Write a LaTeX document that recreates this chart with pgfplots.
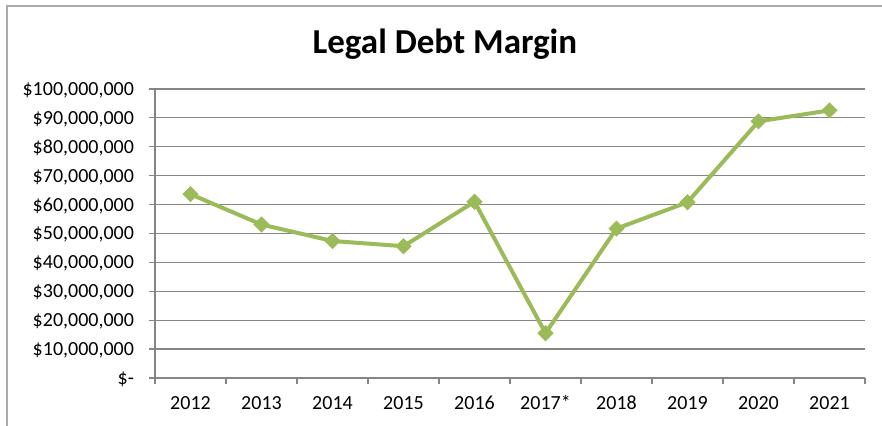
\documentclass[border=0pt]{standalone}
\usepackage{fontspec}
\setmainfont{Carlito}
\usepackage{pgfplots}
\pgfplotsset{compat=1.18}
\definecolor{linegreen}{RGB}{155,187,89}
\definecolor{gridgray}{RGB}{134,134,134}
\definecolor{framegray}{RGB}{170,170,170}

\begin{document}
\begin{tikzpicture}[x=1pt,y=1pt]
\path[use as bounding box] (0,0) rectangle (441,213);
\draw[framegray, line width=0.6pt] (3.5,0) -- (3.5,210) -- (441,210);
\node[anchor=base, font=\fontsize{17.5}{21}\selectfont\bfseries] at (222.4,186) {Legal Debt Margin};
\begin{axis}[
    at={(77.5pt,24pt)}, anchor=south west,
    scale only axis,
    width=355pt, height=144.5pt,
    xmin=-0.5, xmax=9.5,
    ymin=0, ymax=100000000,
    scaled ticks=false,
    xtick={0,...,9},
    xticklabels={2012,2013,2014,2015,2016,2017*,2018,2019,2020,2021},
    minor xtick={-0.5,0.5,...,9.5},
    ytick={0,10000000,20000000,30000000,40000000,50000000,60000000,70000000,80000000,90000000,100000000},
    yticklabels={{\$-\hspace{4pt}},{\$10,000,000},{\$20,000,000},{\$30,000,000},{\$40,000,000},{\$50,000,000},{\$60,000,000},{\$70,000,000},{\$80,000,000},{\$90,000,000},{\$100,000,000}},
    ymajorgrids,
    major grid style={gridgray, line width=0.6pt},
    axis lines*=left,
    axis line style={gridgray, line width=0.6pt, -},
    tick align=outside,
    major x tick style={draw=none},
    minor x tick style={gridgray, line width=0.6pt},
    minor tick length=3pt,
    major tick length=3pt,
    ytick style={gridgray, line width=0.6pt},
    ticklabel style={font=\fontsize{10}{12}\selectfont, text height=6.5pt, text depth=0pt},
    xticklabel style={yshift=-2.5pt},
    yticklabel style={xshift=-4pt},
    clip=false,
]
\addplot[linegreen, line width=2pt, mark=square*, mark size=2.6pt,
         mark options={rotate=45, fill=linegreen, draw=linegreen, line width=0.5pt}]
coordinates {
(0,63600000) (1,53100000) (2,47400000) (3,45600000) (4,61000000)
(5,15500000) (6,51700000) (7,60800000) (8,88800000) (9,92600000)
};
\end{axis}
\end{tikzpicture}
\end{document}
